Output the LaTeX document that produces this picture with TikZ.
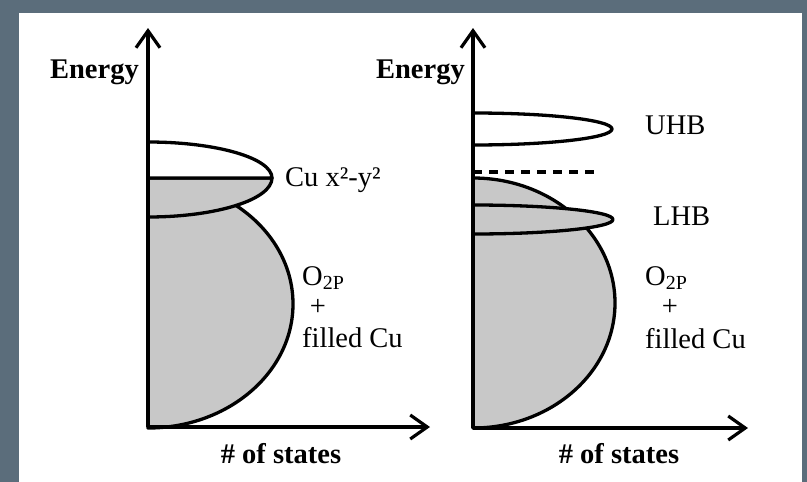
\documentclass[tikz,border=0pt]{standalone}
\usepackage{fontspec}
\setmainfont{Liberation Serif}
\usetikzlibrary{arrows.meta}
\definecolor{slate}{HTML}{5B6D7B}
\definecolor{bandgray}{HTML}{C8C8C8}
\begin{document}
\begin{tikzpicture}[x=1pt,y=-1pt,
  band/.style={fill=bandgray,draw=black,line width=3.3pt,line join=round},
  hole/.style={fill=white,draw=black,line width=3.3pt,line join=round},
  axis/.style={draw=black,line width=3.2pt,-{Straight Barb[length=17pt,width=24pt]}},
  lbl/.style={font=\fontsize{28.5}{30}\selectfont,inner sep=0pt},
  blbl/.style={font=\fontsize{28.5}{30}\selectfont\bfseries,inner sep=0pt}]
\useasboundingbox (0,0) rectangle (807,482);
\fill[slate] (0,0) rectangle (807,482);
\fill[white] (19,13) rectangle (802,482);
% ---- left panel ----
\coordinate (lo) at (148,427);
\coordinate (ltop) at (148,28);
\coordinate (lright) at (430,427);
\filldraw[band] (148,180) arc[start angle=90,end angle=-90,x radius=145pt,y radius=124pt] -- cycle;
\filldraw[band] (148,178) -- (272,178) arc[start angle=0,end angle=-90,x radius=124pt,y radius=39pt] -- cycle;
\filldraw[hole] (148,178) -- (272,178) arc[start angle=0,end angle=90,x radius=124pt,y radius=36pt] -- cycle;
\draw[axis] (lo) -- (ltop);
\draw[axis] (lo) -- (lright);
\node[blbl,anchor=base east] (lE) at (139,78) {Energy};
\node[blbl,anchor=base] (lS) at (281,463) {\# of states};
\node[lbl,anchor=base west] (lcu) at (285,186) {Cu x²-y²};
\node[lbl,anchor=base west] (lo2) at (302,285) {O\textsubscript{2P}};
\node[lbl,anchor=base] (lplus) at (318,315) {+};
\node[lbl,anchor=base west] (lfc) at (302,347) {filled Cu};
% ---- right panel ----
\coordinate (ro) at (473,428);
\coordinate (rtop) at (473,28);
\coordinate (rright) at (748,428);
\coordinate (dA) at (473,172);
\coordinate (dB) at (598,172);
\filldraw[band] (473,178) arc[start angle=90,end angle=-90,x radius=142pt,y radius=125pt] -- cycle;
\filldraw[band] (473,205) arc[start angle=90,end angle=-90,x radius=140pt,y radius=14.5pt] -- cycle;
\filldraw[hole] (473,113) arc[start angle=90,end angle=-90,x radius=139pt,y radius=16pt] -- cycle;
\draw[line width=4.5pt,dash pattern=on 9pt off 7pt] (dA) -- (dB);
\draw[axis] (ro) -- (rtop);
\draw[axis] (ro) -- (rright);
\node[blbl,anchor=base east] (rE) at (465,78) {Energy};
\node[blbl,anchor=base] (rS) at (619,463) {\# of states};
\node[lbl,anchor=base west] (uhb) at (645,134) {UHB};
\node[lbl,anchor=base west] (lhb) at (653,225) {LHB};
\node[lbl,anchor=base west] (ro2) at (645,285) {O\textsubscript{2P}};
\node[lbl,anchor=base] (rplus) at (670,315) {+};
\node[lbl,anchor=base west] (rfc) at (645,348) {filled Cu};
\end{tikzpicture}
\end{document}
